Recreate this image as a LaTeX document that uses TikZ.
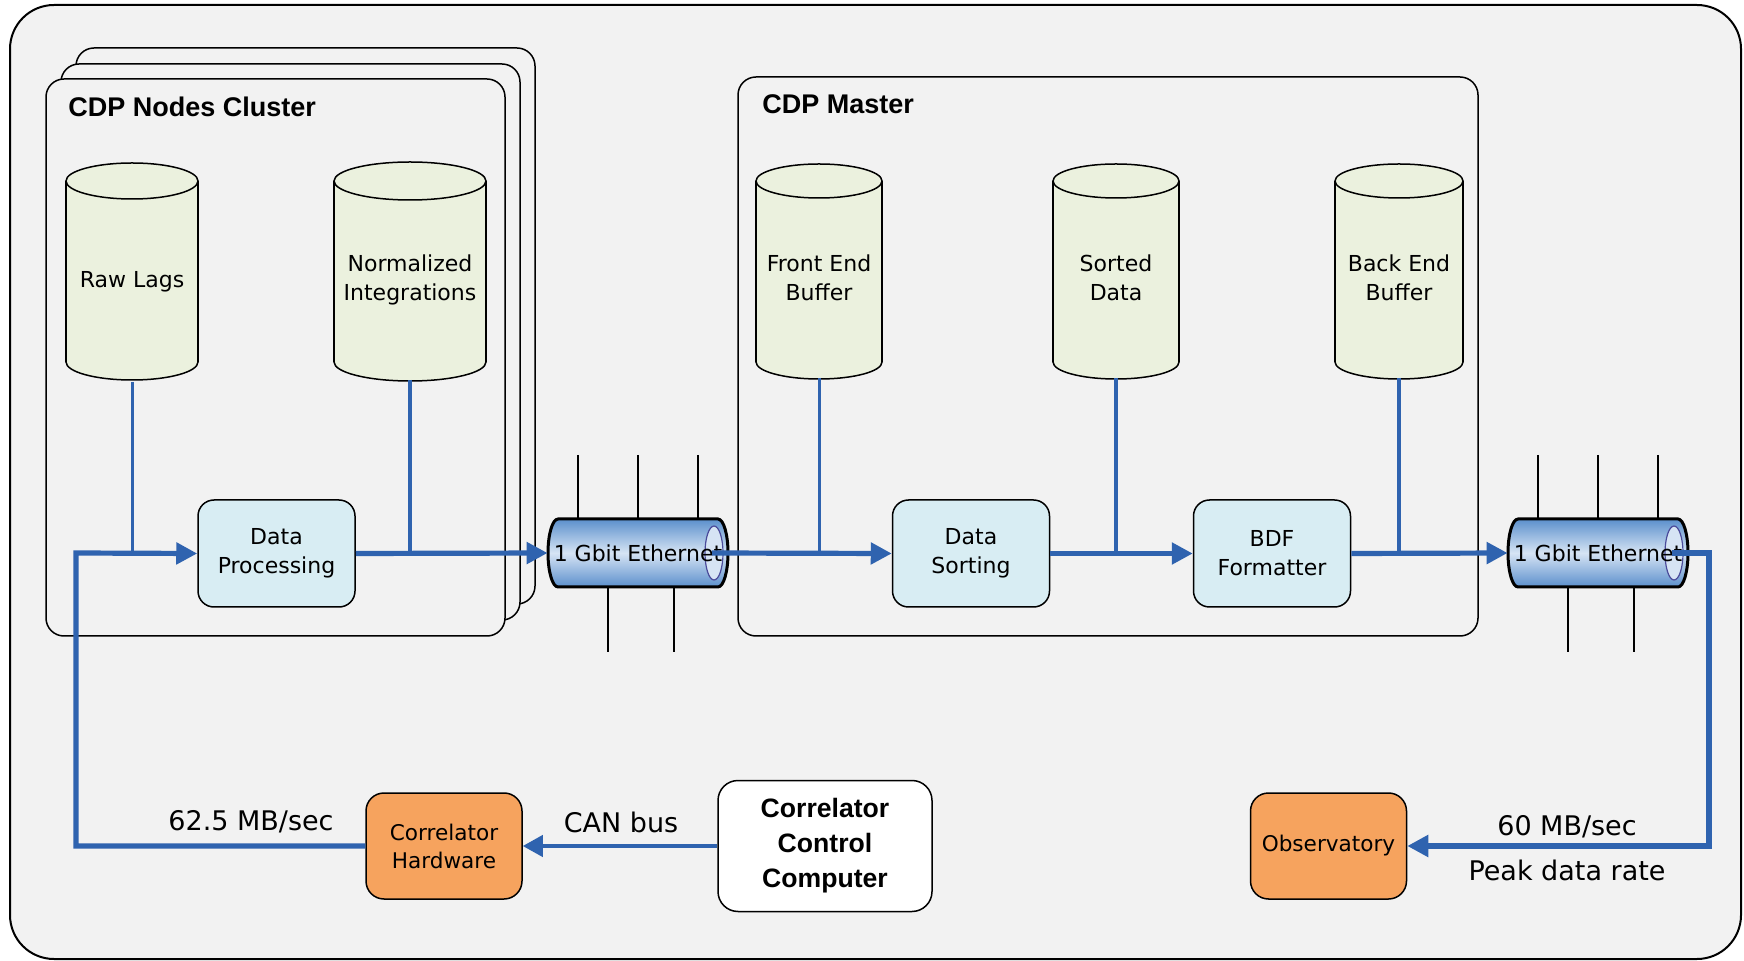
\documentclass[tikz,border=0pt]{standalone}
\usepackage{fontspec}
\usetikzlibrary{arrows.meta}
\newfontfamily\headfont{Liberation Sans}
\newfontfamily\labelfont{DejaVu Sans}
\definecolor{panel}{HTML}{F2F2F2}
\definecolor{cylfill}{HTML}{EBF1DE}
\definecolor{procfill}{HTML}{D8EDF3}
\definecolor{extfill}{HTML}{F6A35E}
\definecolor{flowblue}{HTML}{2F63AF}
\definecolor{ethblue}{HTML}{5B8FCC}
\definecolor{ethlight}{HTML}{D6E4F4}
\definecolor{ethrim}{HTML}{4A4A9A}

% database cylinder: centre x, top-ellipse y, bottom-ellipse y, x radius, y radius
\newcommand\dbcyl[5]{%
  \filldraw[fill=cylfill, draw=black, line width=0.75pt] (#1,#3) ellipse[x radius=#4, y radius=#5];
  \fill[cylfill] (#1-#4,#2) rectangle (#1+#4,#3);
  \draw[line width=0.75pt] (#1-#4,#2) -- (#1-#4,#3) (#1+#4,#2) -- (#1+#4,#3);
  \filldraw[fill=cylfill, draw=black, line width=0.75pt] (#1,#2) ellipse[x radius=#4, y radius=#5];
}
% horizontal network bus: centre x, node name, outlet coordinate name
\newcommand\ethbus[3]{%
  \draw[line width=0.7pt] (#1-60,455) -- (#1-60,519) (#1,455) -- (#1,519) (#1+60,455) -- (#1+60,519)
                          (#1-30,587) -- (#1-30,652) (#1+36,587) -- (#1+36,652);
  \shadedraw[top color=ethblue, bottom color=ethblue, middle color=ethlight, draw=black, line width=1.5pt]
    (#1-80,519) -- (#1+80,519) arc[start angle=-90, end angle=90, x radius=10, y radius=34]
    -- (#1-80,587) arc[start angle=90, end angle=270, x radius=10, y radius=34] -- cycle;
  \filldraw[fill=ethlight, draw=ethrim, line width=0.6pt] (#1+76,553) ellipse[x radius=9, y radius=27];
  \node[bustext] (#2) at (#1,553) {1 Gbit Ethernet};
  \coordinate (#3) at (#1+74,553);
}

\begin{document}
\begin{tikzpicture}[x=0.5pt, y=-0.5pt,
  title/.style={font=\headfont\bfseries\fontsize{13.5}{16}\selectfont, inner sep=0pt, anchor=west},
  box/.style={draw=black, line width=0.75pt, align=center, inner sep=0pt},
  proc/.style={box, fill=procfill, rounded corners=8pt, minimum width=78.5pt, minimum height=53.5pt,
               font=\labelfont\fontsize{11}{14.5}\selectfont},
  ext/.style={box, fill=extfill, rounded corners=9pt, minimum width=78pt, minimum height=53pt,
              font=\labelfont\fontsize{10.8}{14}\selectfont},
  ctrl/.style={box, fill=white, rounded corners=10pt, minimum width=107pt, minimum height=65.5pt,
               font=\headfont\bfseries\fontsize{13.3}{17.5}\selectfont},
  dbtext/.style={inner sep=0pt, minimum height=99.5pt, align=center,
                 font=\labelfont\fontsize{11}{14.5}\selectfont},
  bustext/.style={inner sep=0pt, minimum width=90pt, minimum height=34pt,
                  font=\labelfont\fontsize{11}{13}\selectfont},
  rate/.style={inner sep=0pt, font=\labelfont\fontsize{13.5}{16}\selectfont},
  group/.style={draw=black, line width=0.75pt, fill=panel, rounded corners=9pt},
  flow/.style={draw=flowblue, line width=2.6pt, -{Triangle[length=10.5pt, width=10.5pt]}},
  tap/.style={draw=flowblue, line width=#1},
  tap/.default=2pt
]
\useasboundingbox (0,0) rectangle (1744,961);
\fill[white] (0,0) rectangle (1744,961);

% outer panel
\filldraw[fill=panel, draw=black, line width=1pt, rounded corners=22pt] (10,5) rectangle (1741,959);

% node cluster (stacked frames)
\filldraw[group] (76,48) rectangle (535,604);
\filldraw[group] (61,64) rectangle (520,620);
\filldraw[group] (46,79) rectangle (505,636);
\node[title] (clustertitle) at (68,107) {CDP Nodes Cluster};

% master frame
\filldraw[group] (738,77) rectangle (1478,636);
\node[title] (mastertitle) at (762,104) {CDP Master};

% storage
\dbcyl{132}{181}{362}{66}{18}
\node[dbtext, minimum width=66pt] (rawlags) at (132,282) {Raw Lags};
\dbcyl{410}{181}{362}{76}{19}
\node[dbtext, minimum width=76pt] (normint) at (410,280) {Normalized\\Integrations};
\dbcyl{819}{181}{362}{63}{17}
\node[dbtext, minimum width=63pt] (febuf) at (819,278) {Front End\\Buffer};
\dbcyl{1116}{181}{362}{63}{17}
\node[dbtext, minimum width=63pt] (sorted) at (1116,278) {Sorted\\Data};
\dbcyl{1399}{181}{362}{64}{17}
\node[dbtext, minimum width=64pt] (bebuf) at (1399,278) {Back End\\Buffer};

% processing steps
\node[proc] (dataproc) at (276.5,553.5) {Data\\Processing};
\node[proc] (datasort) at (971,553.5) {Data\\Sorting};
\node[proc] (bdf) at (1272,553.5) {BDF\\Formatter};

% external blocks
\node[ext] (corrhw) at (444,846) {Correlator\\Hardware};
\node[ext] (observatory) at (1328.5,846) {Observatory};
\node[ctrl] (ccc) at (825,846) {Correlator\\Control\\Computer};

% network buses
\ethbus{638}{eth1}{eth1out}
\ethbus{1598}{eth2}{eth2out}

% routing points
\coordinate (loopcorner) at (76,553);
\coordinate (outturn) at (1709,553);

% storage taps
\draw[tap=1.5pt] (rawlags.south) -- (rawlags.south |- dataproc.west);
\draw[tap] (normint.south) -- (normint.south |- dataproc.east);
\draw[tap=1.5pt] (febuf.south) -- (febuf.south |- datasort.west);
\draw[tap] (sorted.south) -- (sorted.south |- datasort.east);
\draw[tap] (bebuf.south) -- (bebuf.south |- bdf.east);

% data flow
\draw[flow] (corrhw.west) -| (loopcorner) -- (dataproc.west);
\draw[flow] (dataproc.east) -- (eth1.west);
\draw[flow] (eth1out) -- (datasort.west);
\draw[flow] (datasort.east) -- (bdf.west);
\draw[flow] (bdf.east) -- (eth2.west);
\draw[flow] (eth2out) -- (outturn) |- (observatory.east);
\draw[draw=flowblue, line width=2pt, -{Triangle[length=10pt, width=10.5pt]}] (ccc.west) -- (corrhw.east);

% link labels
\node[rate] (ratein) at (251,822) {62.5 MB/sec};
\node[rate] (canbus) at (621,822) {CAN bus};
\node[rate] (rateout) at (1567,827) {60 MB/sec};
\node[rate] (peak) at (1567,870) {Peak data rate};
\end{tikzpicture}
\end{document}
